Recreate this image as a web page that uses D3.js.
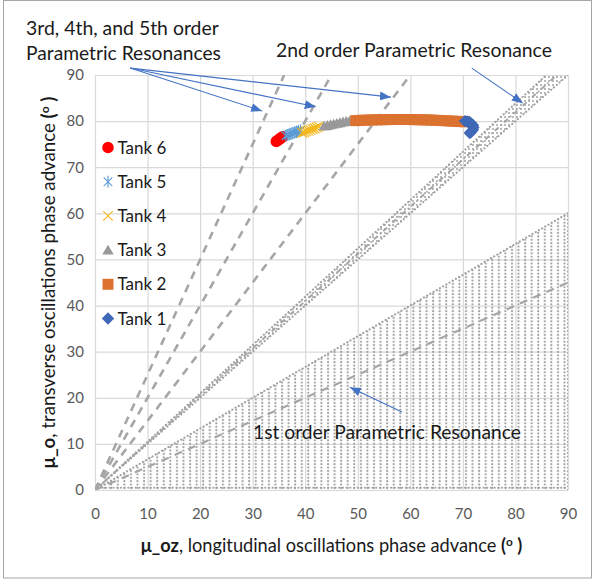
<!DOCTYPE html>
<html>
<head>
<meta charset="utf-8">
<script src="https://cdn.jsdelivr.net/npm/d3@7"></script>
<style>
  body { margin: 0; background: #fff; }
  text { font-family: Lato, "Open Sans", "DejaVu Sans", sans-serif; }
</style>
</head>
<body>
<svg id="chart" width="593" height="579"></svg>
<script>
// ---- axis ticks (degrees) ----
const xTicks = [0, 10, 20, 30, 40, 50, 60, 70, 80, 90];
const yTicks = [0, 10, 20, 30, 40, 50, 60, 70, 80, 90];

// ---- working points per tank: longitudinal (mu_oz) vs transverse (mu_o) phase advance ----
const tank1X = [70.4, 70.8, 71.2, 71.6, 71.9, 72.0, 71.9, 71.6, 71.3];
const tank1Y = [80.0, 79.95, 79.8, 79.5, 79.1, 78.6, 78.1, 77.7, 77.4];
const tank2X = [49.6, 50.4, 51.2, 52.0, 52.8, 53.6, 54.4, 55.2, 56.0, 56.8, 57.6, 58.4, 59.2, 60.0,
                60.8, 61.6, 62.4, 63.2, 64.0, 64.8, 65.6, 66.4, 67.2, 68.0, 68.8, 69.6, 70.4];
const tank2Y = [80.1, 80.15, 80.2, 80.22, 80.25, 80.28, 80.3, 80.32, 80.33, 80.35, 80.35, 80.35, 80.35, 80.34,
                80.32, 80.3, 80.28, 80.25, 80.22, 80.18, 80.14, 80.1, 80.05, 80.0, 79.95, 79.9, 79.85];
const tank3X = [43.6, 44.2, 44.8, 45.4, 46.0, 46.6, 47.2, 47.8, 48.4, 49.0, 49.6];
const tank3Y = [78.9, 79.05, 79.2, 79.35, 79.5, 79.65, 79.8, 79.9, 80.0, 80.1, 80.15];
const tank4X = [39.4, 39.8, 40.2, 40.6, 41.0, 41.4, 41.8, 42.2, 42.6];
const tank4Y = [77.45, 77.6, 77.8, 77.95, 78.1, 78.3, 78.45, 78.6, 78.8];
const tank5X = [36.3, 36.7, 37.1, 37.5, 37.9, 38.3, 38.7, 39.1];
const tank5Y = [76.8, 77.0, 77.2, 77.35, 77.5, 77.7, 77.85, 78.0];
const tank6X = [34.5, 34.8, 35.1, 35.4, 35.7];
const tank6Y = [75.6, 75.85, 76.1, 76.35, 76.6];

// ---- resonance lines, mu_o = k * mu_oz ----
const higherOrderSlopes = [2.5, 2.0, 1.5];     // 5th, 4th, 3rd order
const secondOrderEdges = [1.0, 1.048];          // 2nd order band
const secondOrderMid = 1.024;
const firstOrderEdge = 0.667;                   // 1st order region below this line
const firstOrderMid = 0.5;

// ---- annotation arrows [fromX, fromY, toX, toY] in degrees ----
const higherOrderArrows = [[6.7, 91.5, 31.8, 82.2], [6.7, 91.5, 42.0, 83.1], [6.7, 91.5, 56.3, 85.2]];
const secondOrderArrow = [71.7, 91.5, 81.4, 83.9];
const firstOrderArrow = [58.4, 16.9, 48.5, 22.3];

const W = 593, H = 579;
const margin = { left: 95, right: 25, top: 75, bottom: 89 };
const x = d3.scaleLinear().domain([0, 90]).range([margin.left, W - margin.right]);
const y = d3.scaleLinear().domain([0, 90]).range([H - margin.bottom, margin.top]);

const svg = d3.select('#chart');
svg.append('rect').attr('width', W).attr('height', H).attr('fill', '#fff');
svg.append('rect').attr('x', 3.5).attr('y', 0.5).attr('width', W - 5).attr('height', H - 1.5)
  .attr('fill', 'none').attr('stroke', '#a6a6a6').attr('stroke-width', 1);

const defs = svg.append('defs');
defs.append('clipPath').attr('id', 'plotClip').append('rect')
  .attr('x', x(0)).attr('y', y(90)).attr('width', x(90) - x(0)).attr('height', y(0) - y(90));

// dotted hatching for the resonance regions
const colStep = (x(10) - x(0)) / 8;
const p1 = defs.append('pattern').attr('id', 'hatch1').attr('patternUnits', 'userSpaceOnUse')
  .attr('x', x(0) + 2).attr('y', 0).attr('width', colStep).attr('height', 3.4);
p1.append('circle').attr('cx', 1.1).attr('cy', 1.7).attr('r', 1.05).attr('fill', '#9c9c9c');
const p2 = defs.append('pattern').attr('id', 'hatch2').attr('patternUnits', 'userSpaceOnUse')
  .attr('x', 0).attr('y', 0).attr('width', 4).attr('height', 4);
p2.append('circle').attr('cx', 1).attr('cy', 1).attr('r', 0.95).attr('fill', '#9c9c9c');

// arrowhead
defs.append('marker').attr('id', 'arrow').attr('viewBox', '0 0 10 8')
  .attr('refX', 10).attr('refY', 4).attr('markerWidth', 11).attr('markerHeight', 9)
  .attr('markerUnits', 'userSpaceOnUse').attr('orient', 'auto')
  .append('path').attr('d', 'M0,0 L10,4 L0,8 Z').attr('fill', '#4472c4');

// ---- grid + axes ----
const gx = svg.append('g').attr('transform', `translate(0,${y(0)})`)
  .call(d3.axisBottom(x).tickValues(xTicks).tickSize(-(y(0) - y(90))).tickPadding(18).tickFormat(d3.format('d')));
const gy = svg.append('g').attr('transform', `translate(${x(0)},0)`)
  .call(d3.axisLeft(y).tickValues(yTicks).tickSize(-(x(90) - x(0))).tickPadding(11).tickFormat(d3.format('d')));
[gx, gy].forEach(g => {
  g.select('.domain').remove();
  g.selectAll('.tick line').attr('stroke', '#d9d9d9').attr('stroke-width', 1.2);
  g.selectAll('.tick text').attr('fill', '#595959').attr('font-size', 15)
    .attr('font-family', 'Lato, "Open Sans", sans-serif');
});

const plot = svg.append('g').attr('clip-path', 'url(#plotClip)');
const lineGen = d3.line().x(d => x(d[0])).y(d => y(d[1]));
const ray = k => [[0, 0], [Math.min(90, 90 / k), Math.min(90, 90 / k) * k]];

const dotted = sel => sel.attr('fill', 'none').attr('stroke', '#a0a0a0').attr('stroke-width', 2.1)
  .attr('stroke-linecap', 'round').attr('stroke-dasharray', '0.1 3.6');
const dashed = sel => sel.attr('fill', 'none').attr('stroke', '#a6a6a6').attr('stroke-width', 2.6)
  .attr('stroke-dasharray', '8 6.5');

// 1st order region
plot.append('path')
  .attr('d', lineGen([[0, 0], [90, 90 * firstOrderEdge], [90, 0]]) + 'Z')
  .attr('fill', 'url(#hatch1)');
plot.append('path').attr('d', lineGen(ray(firstOrderEdge))).call(dotted);
plot.append('path').attr('d', lineGen([[90, 0], [90, 90 * firstOrderEdge]])).call(dotted);
plot.append('path').attr('d', lineGen([[0, 0.5], [90, 0.5]])).call(dotted);
plot.append('path').attr('d', lineGen(ray(firstOrderMid))).call(dashed).attr('stroke-width', 2.2);

// 2nd order band
plot.append('path')
  .attr('d', lineGen([...ray(secondOrderEdges[0]), ...ray(secondOrderEdges[1]).reverse()]) + 'Z')
  .attr('fill', 'url(#hatch2)');
secondOrderEdges.forEach(k => plot.append('path').attr('d', lineGen(ray(k))).call(dotted));
plot.append('path').attr('d', lineGen(ray(secondOrderMid))).call(dashed)
  .attr('stroke-width', 2).attr('stroke-dasharray', '5 3 1.5 3');

// 3rd, 4th, 5th order lines
higherOrderSlopes.forEach(k => plot.append('path').attr('d', lineGen(ray(k))).call(dashed));

// ---- marker shapes ----
const shapes = {
  circle: s => `M${-s},0A${s},${s} 0 1,0 ${s},0A${s},${s} 0 1,0 ${-s},0Z`,
  asterisk: s => { const a = s * 0.72; return `M0,${-s}L0,${s}M${-a},${-a}L${a},${a}M${-a},${a}L${a},${-a}`; },
  cross: s => `M${-s},${-s}L${s},${s}M${-s},${s}L${s},${-s}`,
  triangle: s => `M0,${-s * 1.05}L${s * 1.1},${s * 0.85}L${-s * 1.1},${s * 0.85}Z`,
  square: s => `M${-s},${-s}H${s}V${s}H${-s}Z`,
  diamond: s => `M0,${-s}L${s},0L0,${s}L${-s},0Z`
};

const series = [
  { name: 'Tank 6', xs: tank6X, ys: tank6Y, shape: 'circle', size: 5.8, fill: '#ff0000', stroke: 'none' },
  { name: 'Tank 5', xs: tank5X, ys: tank5Y, shape: 'asterisk', size: 6, fill: 'none', stroke: '#5b9bd5' },
  { name: 'Tank 4', xs: tank4X, ys: tank4Y, shape: 'cross', size: 4.8, fill: 'none', stroke: '#f2b71a' },
  { name: 'Tank 3', xs: tank3X, ys: tank3Y, shape: 'triangle', size: 5.2, fill: '#999999', stroke: 'none' },
  { name: 'Tank 2', xs: tank2X, ys: tank2Y, shape: 'square', size: 5.5, fill: '#dc722f', stroke: 'none' },
  { name: 'Tank 1', xs: tank1X, ys: tank1Y, shape: 'diamond', size: 6.2, fill: '#3f68b6', stroke: 'none' }
];

series.forEach(s => {
  const pts = s.xs.map((v, i) => [v, s.ys[i]]);
  svg.append('g').selectAll('path').data(pts).join('path')
    .attr('transform', d => `translate(${x(d[0])},${y(d[1])})`)
    .attr('d', shapes[s.shape](s.size))
    .attr('fill', s.fill).attr('stroke', s.stroke).attr('stroke-width', 1.2);
});

// ---- legend ----
const legend = svg.append('g').attr('transform', 'translate(108,147.5)');
series.forEach((s, i) => {
  const row = legend.append('g').attr('transform', `translate(0,${i * 34.2})`);
  row.append('path').attr('d', shapes[s.shape](s.size)).attr('fill', s.fill)
    .attr('stroke', s.stroke).attr('stroke-width', 1.1);
  row.append('text').attr('x', 9.5).attr('y', 6).attr('font-size', 17).attr('fill', '#1a1a1a').text(s.name);
});

// ---- annotations ----
const fit = (sel, width) => {
  const fs = parseFloat(sel.attr('font-size'));
  const w = sel.node().getComputedTextLength();
  sel.attr('font-size', fs * width / w);
  return sel;
};
const ann = svg.append('g').attr('fill', '#1a1a1a');
fit(ann.append('text').attr('x', 26).attr('y', 35).attr('font-size', 18).text('3rd, 4th, and 5th order'), 193);
fit(ann.append('text').attr('x', 26).attr('y', 60).attr('font-size', 18).text('Parametric Resonances'), 195);
fit(ann.append('text').attr('x', 276).attr('y', 57).attr('font-size', 18).text('2nd order Parametric Resonance'), 276);
fit(ann.append('text').attr('x', 253).attr('y', 439).attr('font-size', 18).text('1st order Parametric Resonance'), 268);

const arrows = svg.append('g').attr('stroke', '#4472c4').attr('stroke-width', 1.1);
[...higherOrderArrows, secondOrderArrow, firstOrderArrow].forEach(a => {
  arrows.append('line').attr('x1', x(a[0])).attr('y1', y(a[1])).attr('x2', x(a[2])).attr('y2', y(a[3]))
    .attr('marker-end', 'url(#arrow)');
});

// ---- axis titles ----
const xTitle = svg.append('text').attr('x', (x(0) + x(90)) / 2).attr('y', 552)
  .attr('text-anchor', 'middle').attr('font-size', 17).attr('fill', '#1a1a1a');
xTitle.append('tspan').attr('font-weight', 'bold').text('\u03bc_oz');
xTitle.append('tspan').text(', longitudinal oscillations phase advance ');
xTitle.append('tspan').attr('font-weight', 'bold').text('(');
xTitle.append('tspan').attr('font-weight', 'bold').style('font-size', '65%').attr('dy', -6).text('o');
xTitle.append('tspan').attr('font-weight', 'bold').attr('dy', 6).text(' )');
fit(xTitle, 382);

const yTitle = svg.append('text')
  .attr('transform', `translate(55,${(y(0) + y(90)) / 2}) rotate(-90)`)
  .attr('text-anchor', 'middle').attr('font-size', 17).attr('fill', '#1a1a1a');
yTitle.append('tspan').attr('font-weight', 'bold').text('\u03bc_o');
yTitle.append('tspan').text(', transverse oscillations phase advance ');
yTitle.append('tspan').attr('font-weight', 'bold').text('(');
yTitle.append('tspan').attr('font-weight', 'bold').style('font-size', '65%').attr('dy', -6).text('o');
yTitle.append('tspan').attr('font-weight', 'bold').attr('dy', 6).text(' )');
fit(yTitle, 372);
</script>
</body>
</html>
